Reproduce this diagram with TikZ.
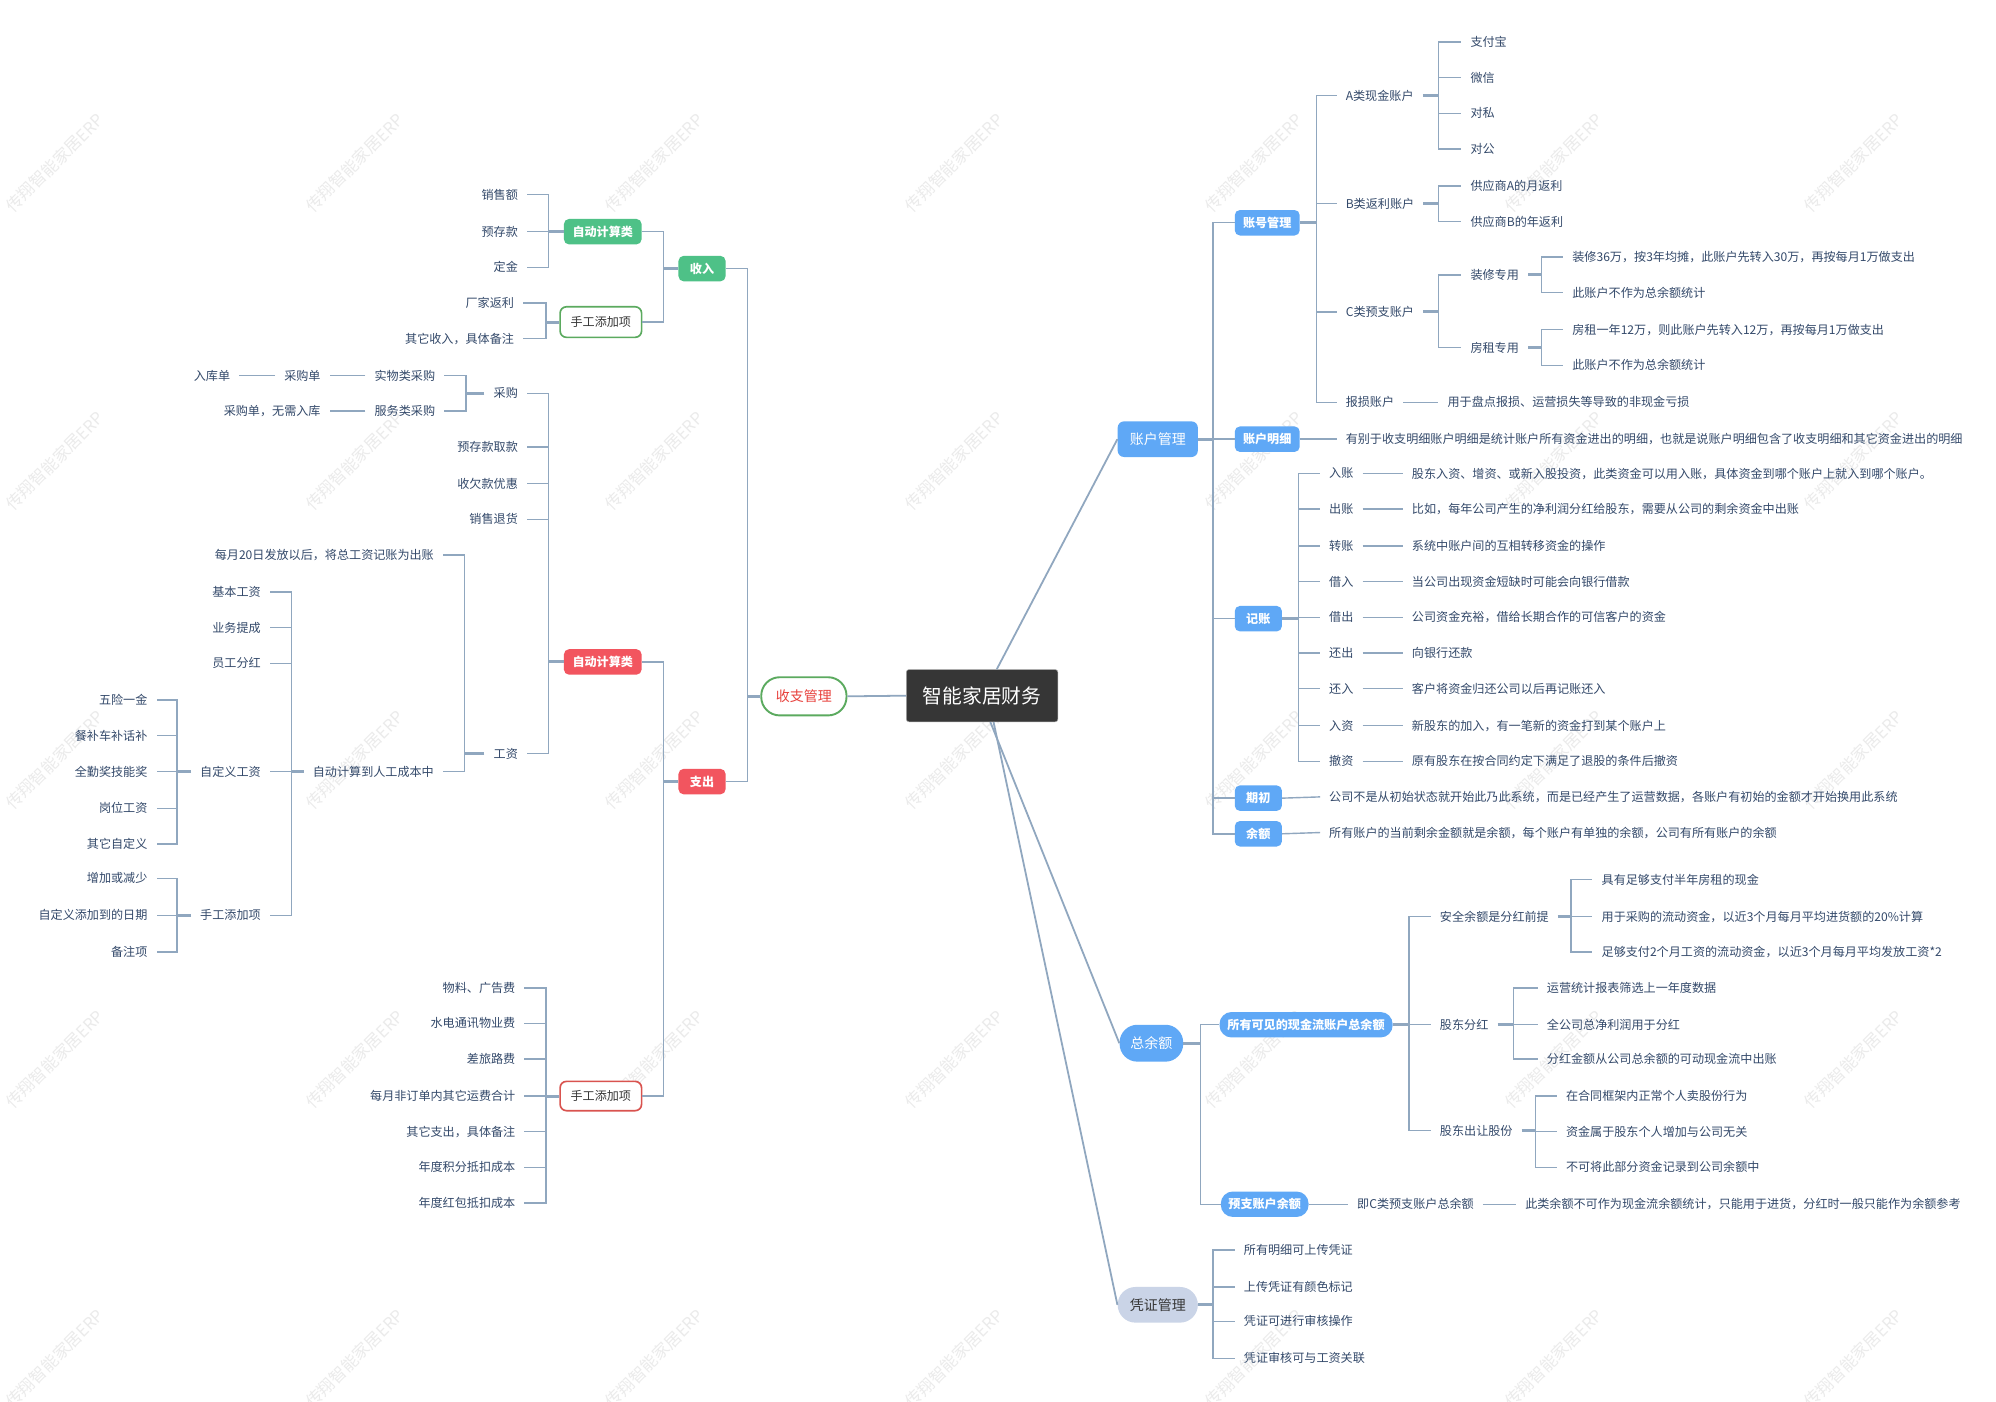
\documentclass[tikz,border=0pt]{standalone}
\usepackage{fontspec}
\setmainfont{Noto Sans CJK SC}
\usetikzlibrary{calc}
\definecolor{lc}{HTML}{90A7BF}
\definecolor{tc}{HTML}{33496A}
\definecolor{bl}{HTML}{5FA8F6}
\definecolor{gr}{HTML}{4EC187}
\definecolor{grb}{HTML}{5BAA5F}
\definecolor{rd}{HTML}{F2555F}
\definecolor{rdb}{HTML}{D9534F}
\definecolor{dk}{HTML}{363636}
\definecolor{pz}{HTML}{CAD4E7}
\definecolor{wm}{HTML}{EBEBEB}
\definecolor{redtxt}{HTML}{E8413C}
\tikzset{
 lt/.style={anchor=east, inner xsep=7pt, inner ysep=1pt, text=tc, font=\fontsize{9.5}{11}\selectfont},
 rt/.style={anchor=west, inner xsep=7pt, inner ysep=1pt, text=tc, font=\fontsize{9.5}{11}\selectfont},
 conn/.style={draw=lc, line width=1.1pt},
 stub/.style={draw=lc, line width=2.4pt},
 mainl/.style={draw=lc, line width=1.4pt},
 wmk/.style={rotate=45, text=wm, font=\fontsize{13}{13}\selectfont},
 boxbase/.style={inner sep=0pt, minimum height=20pt, font=\fontsize{9.5}{11}\selectfont\bfseries, text=white},
 gbox/.style={boxbase, fill=gr, rounded corners=4pt},
 rbox/.style={boxbase, fill=rd, rounded corners=4pt},
 bbox/.style={boxbase, fill=bl, rounded corners=4pt},
 bpill/.style={boxbase, fill=bl, rounded corners=9.5pt},
 gob/.style={inner sep=0pt, draw=grb, line width=1.3pt, fill=white, rounded corners=5pt, text=dk, font=\fontsize{9.5}{11}\selectfont},
 rob/.style={inner sep=0pt, draw=rdb, line width=1.3pt, fill=white, rounded corners=5pt, text=dk, font=\fontsize{9.5}{11}\selectfont},
 lone/.style={inner sep=0pt, minimum width=63pt, minimum height=28pt, font=\fontsize{11}{13}\selectfont, text=white, fill=bl, rounded corners=5pt},
}
\begin{document}
\begin{tikzpicture}[x=1pt,y=-1pt]
\useasboundingbox (0,0) rectangle (1568,1101);
\fill[white] (0,0) rectangle (1568,1101);
% watermarks
\foreach \x [count=\i] in {43,278.5,514,749.5,985,1220.5,1456}
  \foreach \y [count=\j] in {128,362,597,832,1067}
    \node[wmk] (wm\i-\j) at (\x,\y) {传翔智能家居ERP};

% root
\node[fill=dk, draw=gray!70, rounded corners=2pt, minimum width=119pt, minimum height=41pt, inner sep=0pt, text=white, font=\fontsize{15.5}{18}\selectfont] (root) at (771.5,546.5) {智能家居财务};

% ===== left: 收支管理 =====
\node[draw=grb, line width=1.5pt, fill=white, rounded corners=14.5pt, minimum width=67pt, minimum height=30pt, inner sep=0pt, text=redtxt, font=\fontsize{11}{13}\selectfont] (szgl) at (631.5,547) {收支管理};
\node[gbox, minimum width=37pt] (inc) at (551.5,211) {收入};
\node[rbox, minimum width=37pt] (exp) at (551.5,614) {支出};
\node[gbox, minimum width=61pt] (ga) at (473.5,182) {自动计算类};
\node[gob, minimum width=64pt, minimum height=24pt] (gm) at (472,253) {手工添加项};
\node[rbox, minimum width=61pt] (ra) at (473.5,520) {自动计算类};
\node[rob, minimum width=64pt, minimum height=23pt] (rm) at (472,861) {手工添加项};

\node[lt] (a1) at (414,153) {销售额};
\node[lt] (a2) at (414,182) {预存款};
\node[lt] (a3) at (414,210) {定金};
\node[lt] (b1) at (411,238) {厂家返利};
\node[lt] (b2) at (411,266) {其它收入，具体备注};
\node[lt] (c1) at (414,309) {采购};
\node[lt] (c2) at (414,351) {预存款取款};
\node[lt] (c3) at (414,380) {收欠款优惠};
\node[lt] (c4) at (414,408) {销售退货};
\node[lt] (c5) at (414,592) {工资};
\node[lt] (d1) at (349,295) {实物类采购};
\node[lt] (d2) at (349,323) {服务类采购};
\node[lt] (d3) at (259,295) {采购单};
\node[lt] (d4) at (188,295) {入库单};
\node[lt] (d5) at (259,323) {采购单，无需入库};
\node[lt] (e1) at (348,436) {每月20日发放以后，将总工资记账为出账};
\node[lt] (e2) at (348,606) {自动计算到人工成本中};
\node[lt] (f1) at (212,465) {基本工资};
\node[lt] (f2) at (212,493) {业务提成};
\node[lt] (f3) at (212,521) {员工分红};
\node[lt] (f4) at (212,606) {自定义工资};
\node[lt] (f5) at (212,719) {手工添加项};
\node[lt] (g1) at (123,550) {五险一金};
\node[lt] (g2) at (123,578) {餐补车补话补};
\node[lt] (g3) at (123,606) {全勤奖技能奖};
\node[lt] (g4) at (123,635) {岗位工资};
\node[lt] (g5) at (123,663) {其它自定义};
\node[lt] (h1) at (123,690) {增加或减少};
\node[lt] (h2) at (123,719) {自定义添加到的日期};
\node[lt] (h3) at (123,748) {备注项};
\node[lt] (k1) at (412,776) {物料、广告费};
\node[lt] (k2) at (412,804) {水电通讯物业费};
\node[lt] (k3) at (412,832) {差旅路费};
\node[lt] (k4) at (412,861) {每月非订单内其它运费合计};
\node[lt] (k5) at (412,889) {其它支出，具体备注};
\node[lt] (k6) at (412,917) {年度积分抵扣成本};
\node[lt] (k7) at (412,945) {年度红包抵扣成本};

\draw[mainl] (root.west) -- (szgl.east);
\draw[stub] (szgl.west) -- (587,547) coordinate (v);
\draw[conn] (v) |- (inc.east) (v) |- (exp.east);
\draw[stub] (inc.west) -- (521,211) coordinate (v);
\draw[conn] (v) |- (ga.east) (v) |- (gm.east);
\draw[stub] (exp.west) -- (521,614) coordinate (v);
\draw[conn] (v) |- (ra.east) (v) |- (rm.east);
\draw[stub] (ga.west) -- (431,182) coordinate (v);
\draw[conn] (v) |- (a1.east) (v) |- (a2.east) (v) |- (a3.east);
\draw[stub] (gm.west) -- (429,253) coordinate (v);
\draw[conn] (v) |- (b1.east) (v) |- (b2.east);
\draw[stub] (ra.west) -- (431,520) coordinate (v);
\draw[conn] (v) |- (c1.east) (v) |- (c2.east) (v) |- (c3.east) (v) |- (c4.east) (v) |- (c5.east);
\draw[stub] (c1.west) -- (366,309) coordinate (v);
\draw[conn] (v) |- (d1.east) (v) |- (d2.east);
\draw[conn] (d1.west) -- (d3.east);
\draw[conn] (d3.west) -- (d4.east);
\draw[conn] (d2.west) -- (d5.east);
\draw[stub] (c5.west) -- (365,592) coordinate (v);
\draw[conn] (v) |- (e1.east) (v) |- (e2.east);
\draw[stub] (e2.west) -- (229,606) coordinate (v);
\draw[conn] (v) |- (f1.east) (v) |- (f2.east) (v) |- (f3.east) (v) |- (f4.east) (v) |- (f5.east);
\draw[stub] (f4.west) -- (139,606) coordinate (v);
\draw[conn] (v) |- (g1.east) (v) |- (g2.east) (v) |- (g3.east) (v) |- (g4.east) (v) |- (g5.east);
\draw[stub] (f5.west) -- (139,719) coordinate (v);
\draw[conn] (v) |- (h1.east) (v) |- (h2.east) (v) |- (h3.east);
\draw[stub] (rm.west) -- (429,861) coordinate (v);
\draw[conn] (v) |- (k1.east) (v) |- (k2.east) (v) |- (k3.east) (v) |- (k4.east) (v) |- (k5.east) (v) |- (k6.east) (v) |- (k7.east);

% ===== right: 账户管理 =====
\node[lone] (zhgl) at (909.5,345) {账户管理};
\node[bbox, minimum width=51pt] (zhh) at (995.5,175) {账号管理};
\node[bbox, minimum width=51pt] (zhmx) at (995.5,345) {账户明细};
\node[bbox, minimum width=37pt] (jz) at (988.5,486) {记账};
\node[bbox, minimum width=37pt] (qc) at (988.5,627) {期初};
\node[bbox, minimum width=37pt] (ye) at (988.5,655) {余额};
\draw[mainl] ([xshift=11.5pt]root.north) -- (zhgl.west);
\draw[stub] (zhgl.east) -- (953,345) coordinate (v);
\draw[conn] (v) |- (zhh.west) (v) |- (zhmx.west) (v) |- (jz.west) (v) |- (qc.west) (v) |- (ye.west);

\node[rt] (m1) at (1050,75) {A类现金账户};
\node[rt] (m2) at (1050,160) {B类返利账户};
\node[rt] (m3) at (1050,245) {C类预支账户};
\node[rt] (m4) at (1050,316) {报损账户};
\draw[stub] (zhh.east) -- (1034,175) coordinate (v);
\draw[conn] (v) |- (m1.west) (v) |- (m2.west) (v) |- (m3.west) (v) |- (m4.west);
\node[rt] (n1) at (1148,33) {支付宝};
\node[rt] (n2) at (1148,61) {微信};
\node[rt] (n3) at (1148,89) {对私};
\node[rt] (n4) at (1148,117) {对公};
\node[rt] (n5) at (1148,146) {供应商A的月返利};
\node[rt] (n6) at (1148,174) {供应商B的年返利};
\node[rt] (n7) at (1148,216) {装修专用};
\node[rt] (n8) at (1148,273) {房租专用};
\node[rt] (n9) at (1130,316) {用于盘点报损、运营损失等导致的非现金亏损};
\draw[stub] (m1.east) -- (1130,75) coordinate (v);
\draw[conn] (v) |- (n1.west) (v) |- (n2.west) (v) |- (n3.west) (v) |- (n4.west);
\draw[stub] (m2.east) -- (1130,160) coordinate (v);
\draw[conn] (v) |- (n5.west) (v) |- (n6.west);
\draw[stub] (m3.east) -- (1130,245) coordinate (v);
\draw[conn] (v) |- (n7.west) (v) |- (n8.west);
\draw[conn] (m4.east) -- (n9.west);
\node[rt] (p1) at (1228,202) {装修36万，按3年均摊，此账户先转入30万，再按每月1万做支出};
\node[rt] (p2) at (1228,230) {此账户不作为总余额统计};
\node[rt] (p3) at (1228,259) {房租一年12万，则此账户先转入12万，再按每月1万做支出};
\node[rt] (p4) at (1228,287) {此账户不作为总余额统计};
\draw[stub] (n7.east) -- (1211,216) coordinate (v);
\draw[conn] (v) |- (p1.west) (v) |- (p2.west);
\draw[stub] (n8.east) -- (1211,273) coordinate (v);
\draw[conn] (v) |- (p3.west) (v) |- (p4.west);

\node[rt] (q0) at (1050,345) {有别于收支明细账户明细是统计账户所有资金进出的明细，也就是说账户明细包含了收支明细和其它资金进出的明细};
\draw[conn] (zhmx.east) -- (q0.west);

\node[rt] (r1) at (1037,372) {入账};
\node[rt] (r2) at (1037,400) {出账};
\node[rt] (r3) at (1037,429) {转账};
\node[rt] (r4) at (1037,457) {借入};
\node[rt] (r5) at (1037,485) {借出};
\node[rt] (r6) at (1037,513) {还出};
\node[rt] (r7) at (1037,541) {还入};
\node[rt] (r8) at (1037,570) {入资};
\node[rt] (r9) at (1037,598) {撤资};
\draw[stub] (jz.east) -- (1020,486) coordinate (v);
\draw[conn] (v) |- (r1.west) (v) |- (r2.west) (v) |- (r3.west) (v) |- (r4.west) (v) |- (r5.west) (v) |- (r6.west) (v) |- (r7.west) (v) |- (r8.west) (v) |- (r9.west);
\node[rt] (s1) at (1102,372) {股东入资、增资、或新入股投资，此类资金可以用入账，具体资金到哪个账户上就入到哪个账户。};
\node[rt] (s2) at (1102,400) {比如，每年公司产生的净利润分红给股东，需要从公司的剩余资金中出账};
\node[rt] (s3) at (1102,429) {系统中账户间的互相转移资金的操作};
\node[rt] (s4) at (1102,457) {当公司出现资金短缺时可能会向银行借款};
\node[rt] (s5) at (1102,485) {公司资金充裕，借给长期合作的可信客户的资金};
\node[rt] (s6) at (1102,513) {向银行还款};
\node[rt] (s7) at (1102,541) {客户将资金归还公司以后再记账还入};
\node[rt] (s8) at (1102,570) {新股东的加入，有一笔新的资金打到某个账户上};
\node[rt] (s9) at (1102,598) {原有股东在按合同约定下满足了退股的条件后撤资};
\foreach \i in {1,...,9} \draw[conn] (r\i.east) -- (s\i.west);

\node[rt] (t1) at (1037,626) {公司不是从初始状态就开始此乃此系统，而是已经产生了运营数据，各账户有初始的金额才开始换用此系统};
\node[rt] (t2) at (1037,654) {所有账户的当前剩余金额就是余额，每个账户有单独的余额，公司有所有账户的余额};
\draw[conn] (qc.east) -- (t1.west);
\draw[conn] (ye.east) -- (t2.west);

% ===== right: 总余额 =====
\node[lone, rounded corners=14pt, minimum width=50pt, minimum height=29pt] (zye) at (904.5,819.5) {总余额};
\draw[mainl] ([xshift=6.5pt]root.south) -- (zye.west);
\node[bpill, minimum width=136pt] (syky) at (1026,805) {所有可见的现金流账户总余额};
\node[bpill, minimum width=69pt] (yzye) at (993.5,946) {预支账户余额};
\draw[stub] (zye.east) -- (943,819.5) coordinate (v);
\draw[conn] (v) |- (syky.west) (v) |- (yzye.west);
\node[rt] (u1) at (1124,720) {安全余额是分红前提};
\node[rt] (u2) at (1124,805) {股东分红};
\node[rt] (u3) at (1124,888) {股东出让股份};
\draw[stub] (syky.east) -- (1107,805) coordinate (v);
\draw[conn] (v) |- (u1.west) (v) |- (u2.west) (v) |- (u3.west);
\node[rt] (w1) at (1251,691) {具有足够支付半年房租的现金};
\node[rt] (w2) at (1251,720) {用于采购的流动资金，以近3个月每月平均进货额的20\%计算};
\node[rt] (w3) at (1251,748) {足够支付2个月工资的流动资金，以近3个月每月平均发放工资*2};
\draw[stub] (u1.east) -- (1234,720) coordinate (v);
\draw[conn] (v) |- (w1.west) (v) |- (w2.west) (v) |- (w3.west);
\node[rt] (w4) at (1208,776) {运营统计报表筛选上一年度数据};
\node[rt] (w5) at (1208,805) {全公司总净利润用于分红};
\node[rt] (w6) at (1208,832) {分红金额从公司总余额的可动现金流中出账};
\draw[stub] (u2.east) -- (1189,805) coordinate (v);
\draw[conn] (v) |- (w4.west) (v) |- (w5.west) (v) |- (w6.west);
\node[rt] (w7) at (1223,861) {在合同框架内正常个人卖股份行为};
\node[rt] (w8) at (1223,889) {资金属于股东个人增加与公司无关};
\node[rt] (w9) at (1223,917) {不可将此部分资金记录到公司余额中};
\draw[stub] (u3.east) -- (1206,888) coordinate (v);
\draw[conn] (v) |- (w7.west) (v) |- (w8.west) (v) |- (w9.west);
\node[rt] (x1) at (1059,946) {即C类预支账户总余额};
\node[rt] (x2) at (1191,946) {此类余额不可作为现金流余额统计，只能用于进货，分红时一般只能作为余额参考};
\draw[conn] (yzye.east) -- (x1.west);
\draw[conn] (x1.east) -- (x2.west);

% ===== right: 凭证管理 =====
\node[lone, fill=pz, text=dk, rounded corners=14pt] (pzgl) at (909.5,1025) {凭证管理};
\draw[mainl] ([xshift=9pt]root.south) -- (pzgl.west);
\node[rt] (y1) at (970,982) {所有明细可上传凭证};
\node[rt] (y2) at (970,1011) {上传凭证有颜色标记};
\node[rt] (y3) at (970,1038) {凭证可进行审核操作};
\node[rt] (y4) at (970,1067) {凭证审核可与工资关联};
\draw[stub] (pzgl.east) -- (953,1025) coordinate (v);
\draw[conn] (v) |- (y1.west) (v) |- (y2.west) (v) |- (y3.west) (v) |- (y4.west);
\end{tikzpicture}
\end{document}
